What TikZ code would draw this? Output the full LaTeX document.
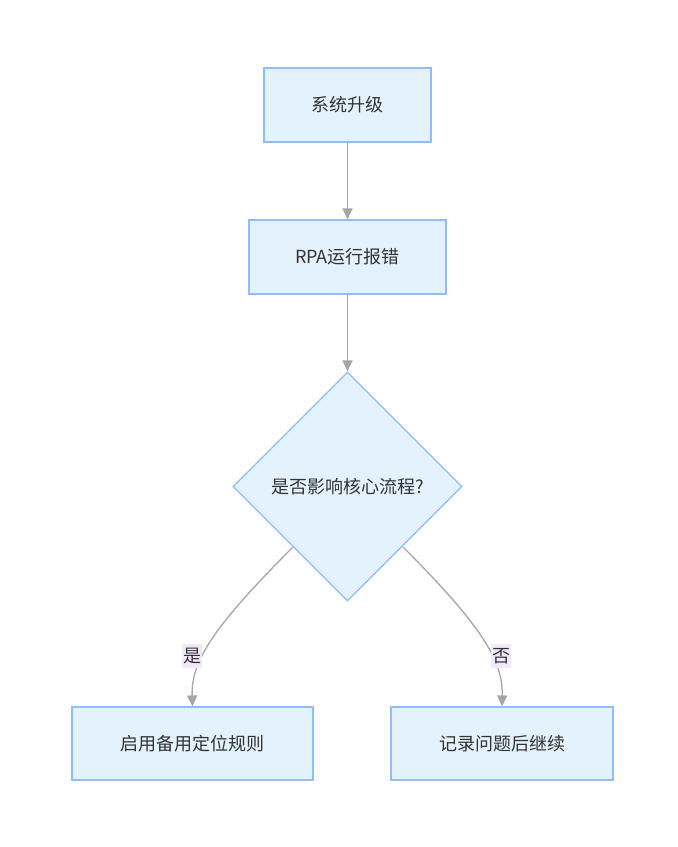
\documentclass[tikz,border=0pt]{standalone}
\usepackage{fontspec}
\setmainfont{Noto Sans CJK SC}
\usetikzlibrary{shapes.geometric,arrows.meta}
\definecolor{boxfill}{HTML}{E3F2FD}
\definecolor{boxline}{HTML}{90BCF9}
\definecolor{txt}{HTML}{333333}
\definecolor{edge}{HTML}{A6A6A6}
\definecolor{lblbg}{HTML}{F1E8FB}
\begin{document}
\begin{tikzpicture}[x=1pt,y=-1pt,
  every node/.style={font=\fontsize{18}{21}\selectfont, text=txt},
  procbox/.style={draw=boxline, fill=boxfill, line width=1.2pt, rectangle, inner sep=0pt},
  decbox/.style={draw=boxline, fill=boxfill, line width=1.2pt, diamond, inner sep=0pt, minimum width=229pt, minimum height=229pt},
  conn/.style={draw=edge, line width=1.3pt, -{Triangle[length=11pt,width=10pt]}},
  elabel/.style={fill=lblbg, inner xsep=1pt, inner ysep=4pt}
]
\useasboundingbox (0,0) rectangle (678,847);
\fill[white] (0,0) rectangle (678,847);
\node[procbox, minimum width=167pt, minimum height=74pt] (a) at (347.5,105) {系统升级};
\node[procbox, minimum width=197pt, minimum height=74pt] (b) at (347.5,257) {RPA运行报错};
\node[decbox] (c) at (347.5,486.5) {是否影响核心流程?};
\node[procbox, minimum width=241pt, minimum height=73pt] (d) at (192.5,743.5) {启用备用定位规则};
\node[procbox, minimum width=222pt, minimum height=73pt] (e) at (502,743.5) {记录问题后继续};
\draw[conn] (a) -- (b);
\draw[conn] (b) -- (c);
\coordinate (cl) at (293,547);
\coordinate (cr) at (403,547);
\draw[conn] (cl) .. controls (212,628) and (191,662) .. (d.north);
\draw[conn] (cr) .. controls (484,628) and (503,662) .. (e.north);
\node[elabel] (ly) at (192,656) {是};
\node[elabel] (ln) at (501,656) {否};
\end{tikzpicture}
\end{document}
